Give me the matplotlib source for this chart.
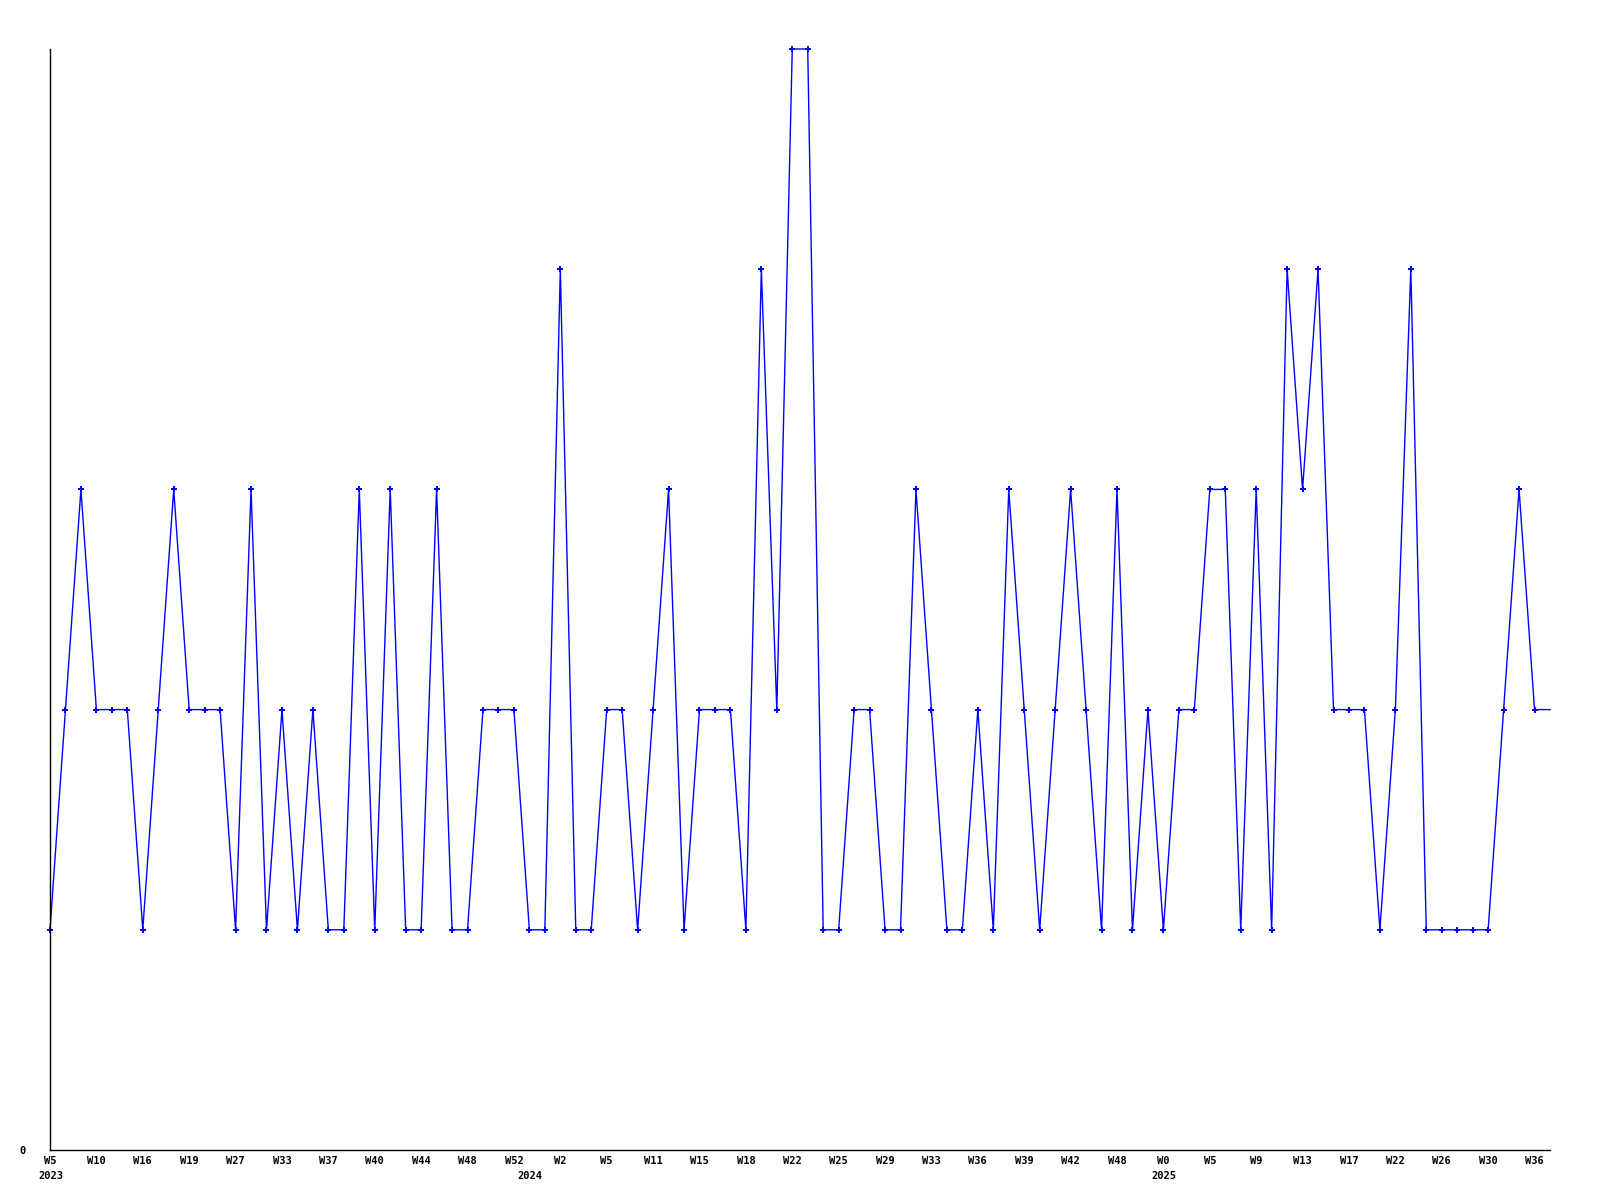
import matplotlib
matplotlib.use("Agg")
import matplotlib.pyplot as plt
from matplotlib.transforms import blended_transform_factory

# ---- data ----
values = [1, 2, 3, 2, 2, 2, 1, 2, 3, 2, 2, 2, 1, 3, 1, 2, 1, 2, 1, 1,
          3, 1, 3, 1, 1, 3, 1, 1, 2, 2, 2, 1, 1, 4, 1, 1, 2, 2, 1, 2,
          3, 1, 2, 2, 2, 1, 4, 2, 5, 5, 1, 1, 2, 2, 1, 1, 3, 2, 1, 1,
          2, 1, 3, 2, 1, 2, 3, 2, 1, 3, 1, 2, 1, 2, 2, 3, 3, 1, 3, 1,
          4, 3, 4, 2, 2, 2, 1, 2, 4, 1, 1, 1, 1, 1, 2, 3, 2, 2]
tick_labels = ["W5", "W10", "W16", "W19", "W27", "W33", "W37", "W40", "W44",
               "W48", "W52", "W2", "W5", "W11", "W15", "W18", "W22", "W25",
               "W29", "W33", "W36", "W39", "W42", "W48", "W0", "W5", "W9",
               "W13", "W17", "W22", "W26", "W30", "W36"]
years = ["2023", "2024", "2025"]
year_index = [0, 31, 72]

# ---- plot ----
fig = plt.figure(figsize=(16, 12), dpi=100)
ax = fig.add_axes([50/1600, 1 - 1150/1200, 1500/1600, (1150 - 49)/1200])

x = list(range(len(values)))
ax.plot(x, values, color="#0000FF", lw=1.0, marker="P", markersize=5,
        markeredgewidth=0, markevery=list(range(len(values) - 1)),
        clip_on=False)

ax.set_xlim(0, len(values) - 1)
ax.set_ylim(0, 5)

for s in ["top", "right"]:
    ax.spines[s].set_visible(False)
for s in ["left", "bottom"]:
    ax.spines[s].set_linewidth(1.0)
    ax.spines[s].set_color("black")

font = dict(family="DejaVu Sans Mono", weight="bold", size=7.5)
tick_pos = list(range(0, 3 * len(tick_labels), 3))
ax.set_xticks(tick_pos)
ax.set_xticklabels(tick_labels, **font)
ax.set_yticks([0])
ax.set_yticklabels(["0"], **font)
ax.tick_params(axis="x", length=0, pad=4)
ax.tick_params(axis="y", length=0, pad=17.5)

trans = blended_transform_factory(ax.transData, ax.transAxes)
for yr, idx in zip(years, year_index):
    ax.text(idx - 0.75, -0.019, yr, transform=trans, ha="left", va="top", **font)

fig.savefig("out.png", dpi=100, facecolor="white")
